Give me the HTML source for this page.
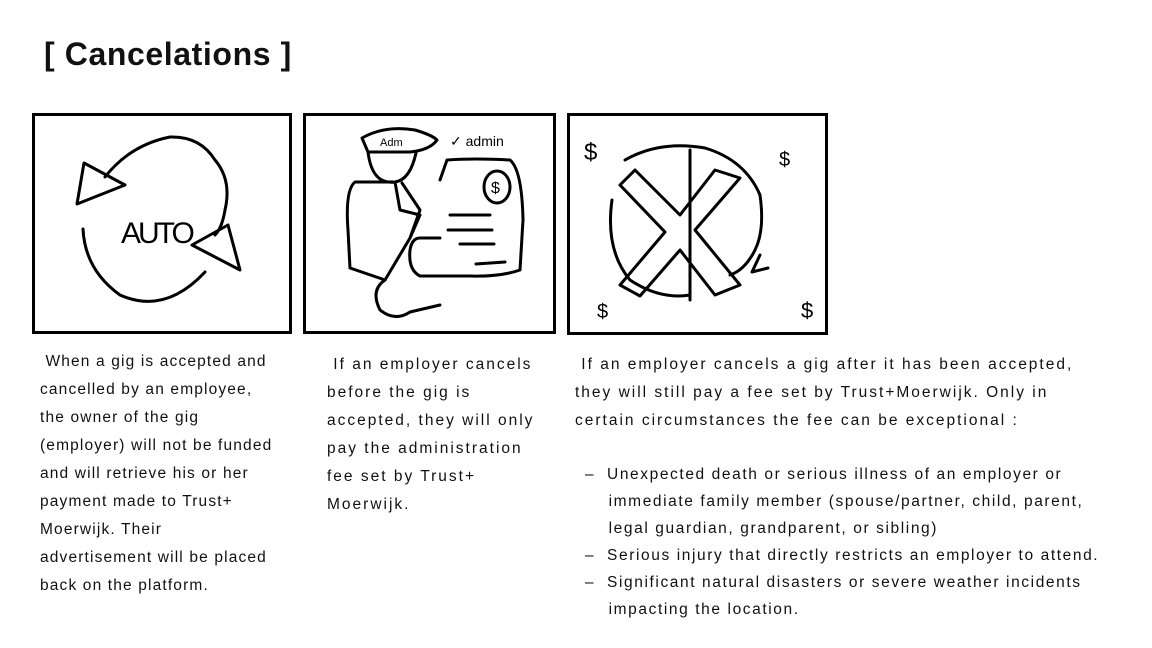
<!DOCTYPE html>
<html><head><style>
body{margin:0;width:1152px;height:648px;background:#fff;position:relative;overflow:hidden;font-family:"Liberation Sans",sans-serif;color:#111}
.t{position:absolute;font-size:15.5px;letter-spacing:0.3px;white-space:nowrap}
.box{position:absolute;border:3px solid #000;box-sizing:border-box}
svg{position:absolute;left:0;top:0}
</style></head><body>
<div class="t" style="left:44px;top:36px;font-size:32px;letter-spacing:0.6px;font-weight:bold">[ Cancelations ]</div>
<div class="box" style="left:32px;top:113px;width:260px;height:221px"></div>
<div class="box" style="left:303px;top:113px;width:253px;height:221px"></div>
<div class="box" style="left:567px;top:113px;width:261px;height:222px"></div>
<svg width="1152" height="648" fill="none" stroke="#000" stroke-width="3" stroke-linecap="round" stroke-linejoin="round">
<path d="M105 177 Q130 145 170 137 Q200 136 215 160 Q232 180 225 210 Q222 228 215 235"/>
<path d="M83 229 Q85 270 120 295 Q165 315 205 272"/>
<path d="M84 163 L125 185 L77 204 Z"/>
<path d="M192 245 L228 225 L240 270 Z"/>
<text x="121" y="243" font-family="Liberation Sans" font-size="30" fill="#000" stroke="none" letter-spacing="-3">AUTO</text>
<path d="M362 138 Q385 125 415 130 Q432 135 437 140 Q430 150 410 152 Q385 152 368 152 Z"/>
<path d="M368 152 Q372 185 395 182 Q410 180 416 153"/>
<path d="M395 182 L355 182 Q345 190 348 230 L350 268 L385 280 L410 238 L420 215 L400 210 Z"/>
<path d="M385 280 Q370 290 380 310 Q395 322 410 312 L440 305"/>
<path d="M410 238 L420 210 L402 183"/>
<path d="M440 180 L447 160 Q475 158 510 160 Q522 170 523 220 L520 270 Q500 277 470 276 L420 276 Q408 270 410 250 Q412 238 420 238 L440 238"/>
<ellipse cx="497" cy="187" rx="13" ry="16"/>
<path d="M450 215 L490 215 M448 230 L492 230 M460 244 L494 244 M476 264 L505 262"/>
<text x="380" y="146" font-size="11" fill="#000" stroke="none">Adm</text>
<text x="491" y="193" font-size="16" fill="#000" stroke="none">$</text>
<text x="450" y="146" font-size="14" fill="#000" stroke="none" stroke-width="0">✓ admin</text>
<path d="M625 160 Q660 140 705 148 Q745 160 760 195 Q765 230 755 250 Q745 270 730 275"/>
<path d="M612 200 Q605 250 630 280 Q660 300 690 295"/>
<path d="M635 170 L680 215 L715 170 L740 178 L695 230 L740 285 L715 295 L680 250 L640 296 L620 285 L665 232 L620 185 Z"/>
<path d="M690 150 L690 300"/>
<path d="M760 255 L752 272 L768 268"/>
<text x="584" y="160" font-size="24" fill="#000" stroke="none">$</text>
<text x="779" y="166" font-size="20" fill="#000" stroke="none">$</text>
<text x="597" y="318" font-size="20" fill="#000" stroke="none">$</text>
<text x="801" y="318" font-size="22" fill="#000" stroke="none">$</text>
</svg>
<div class="t" style="left:40px;top:348px;line-height:28px;letter-spacing:1.15px">&nbsp;When a gig is accepted and<br>cancelled by an employee,<br>the owner of the gig<br>(employer) will not be funded<br>and will retrieve his or her<br>payment made to Trust+<br>Moerwijk. Their<br>advertisement will be placed<br>back on the platform.</div>
<div class="t" style="left:327px;top:351px;line-height:28px;letter-spacing:2px">&nbsp;If an employer cancels<br>before the gig is<br>accepted, they will only<br>pay the administration<br>fee set by Trust+<br>Moerwijk.</div>
<div class="t" style="left:575px;top:351px;line-height:28px;letter-spacing:2px">&nbsp;If an employer cancels a gig after it has been accepted,<br>they will still pay a fee set by Trust+Moerwijk. Only in<br>certain circumstances the fee can be exceptional :</div>
<div class="t" style="left:585px;top:461px;line-height:27px;letter-spacing:1.6px">–&nbsp; Unexpected death or serious illness of an employer or<br>&nbsp;&nbsp;&nbsp;&nbsp;immediate family member (spouse/partner, child, parent,<br>&nbsp;&nbsp;&nbsp;&nbsp;legal guardian, grandparent, or sibling)<br>–&nbsp; Serious injury that directly restricts an employer to attend.<br>–&nbsp; Significant natural disasters or severe weather incidents<br>&nbsp;&nbsp;&nbsp;&nbsp;impacting the location.</div>
</body></html>
